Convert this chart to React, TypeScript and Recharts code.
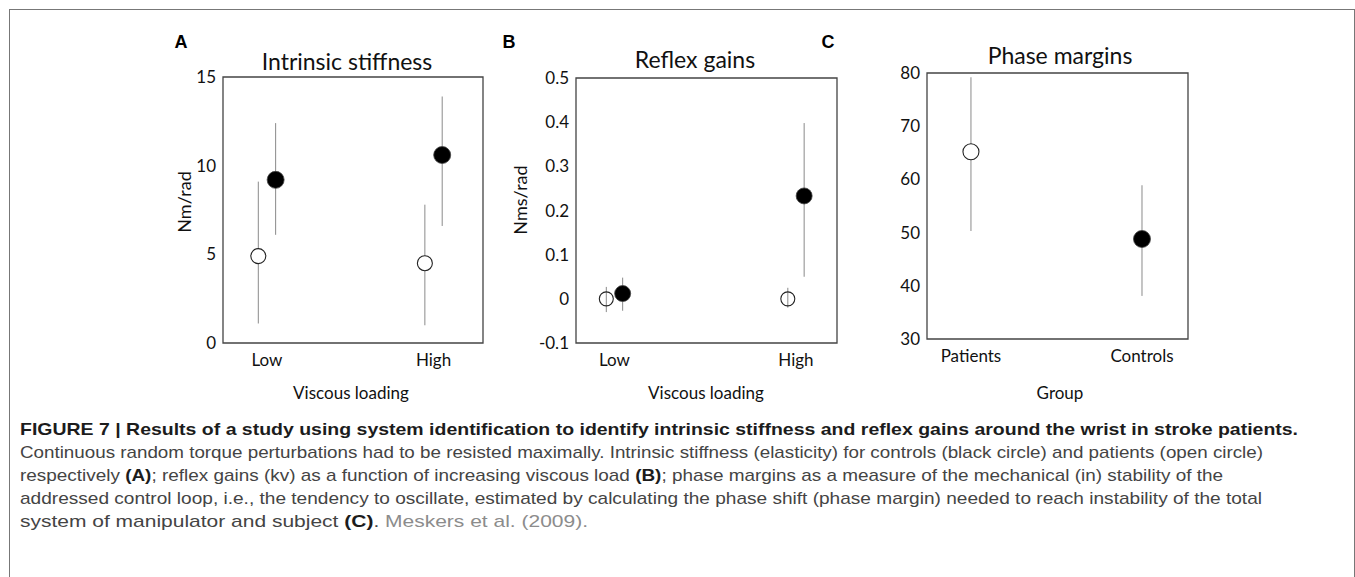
import React from 'react';
import {
  ScatterChart,
  Scatter,
  XAxis,
  YAxis,
  ErrorBar,
  ReferenceArea,
} from 'recharts';

// ---- data ----
const loadLevels = ['Low', 'High'];
const groups = ['Patients', 'Controls'];

// A: intrinsic stiffness (Nm/rad)
const stiffPatientsMean = [4.9, 4.5];
const stiffPatientsLow = [1.1, 1.0];
const stiffPatientsHigh = [9.1, 7.8];
const stiffControlsMean = [9.2, 10.6];
const stiffControlsLow = [6.1, 6.6];
const stiffControlsHigh = [12.4, 13.9];
const stiffTicks = [0, 5, 10, 15];

// B: reflex gains (Nms/rad)
const reflexPatientsMean = [0.0, 0.0];
const reflexPatientsLow = [-0.03, -0.02];
const reflexPatientsHigh = [0.027, 0.025];
const reflexControlsMean = [0.012, 0.233];
const reflexControlsLow = [-0.027, 0.05];
const reflexControlsHigh = [0.048, 0.398];
const reflexTicks = [-0.1, 0, 0.1, 0.2, 0.3, 0.4, 0.5];

// C: phase margins (deg)
const phaseMean = [65.2, 48.8];
const phaseLow = [50.3, 38.1];
const phaseHigh = [79.2, 58.9];
const phaseTicks = [30, 40, 50, 60, 70, 80];

const CHART_FONT = 'Lato, "Open Sans", sans-serif';
const CAPTION_FONT = '"Liberation Sans Narrow", "Liberation Sans", Arial, sans-serif';

type Pt = { x: number; y: number; err: [number, number] };

function buildSeries(mean: number[], lo: number[], hi: number[], dodge: number, only?: number): Pt[] {
  return mean
    .map((m, i) => ({ x: i + 1 + dodge, y: m, err: [m - lo[i]!, hi[i]! - m] as [number, number], i }))
    .filter((p) => only === undefined || p.i === only)
    .map(({ x, y, err }) => ({ x, y, err }));
}

const openDot = (r: number, fill: string) => (p: any) => (
  <circle cx={p.cx} cy={p.cy} r={r} fill={fill} stroke="#222" strokeWidth={1.1} />
);
const filledDot = (r: number) => (p: any) => (
  <circle cx={p.cx} cy={p.cy} r={r} fill="#000" stroke="#444" strokeWidth={0.8} />
);

interface PanelProps {
  box: [number, number, number, number]; // plot box in page px: x0, y0, x1, y1
  xDomain: [number, number];
  yDomain: [number, number];
  yTicks: number[];
  labels: string[];
  series: { data: Pt[]; shape: (p: any) => React.ReactElement; name: string }[];
  yFormat?: (v: number) => string;
}

function Panel({ box, xDomain, yDomain, yTicks, labels, series, yFormat }: PanelProps) {
  const [x0, y0, x1, y1] = box;
  const yw = 50;
  const xh = 40;
  const left = x0 - yw - 20;
  const top = y0 - 20;
  const width = x1 - left + 20;
  const height = y1 - top + xh + 20;
  return (
    <div style={{ position: 'absolute', left, top }}>
      <ScatterChart
        width={width}
        height={height}
        margin={{ top: 20, right: 20, bottom: 20, left: 20 }}
      >
        <XAxis
          type="number"
          dataKey="x"
          domain={xDomain}
          ticks={[1, 2]}
          tickFormatter={(v: number) => labels[v - 1] ?? ''}
          axisLine={false}
          tickLine={false}
          tickSize={0}
          tickMargin={11}
          height={xh}
          allowDataOverflow
          tick={{ fill: '#111', fontSize: 17, fontFamily: CHART_FONT }}
        />
        <YAxis
          type="number"
          dataKey="y"
          domain={yDomain}
          ticks={yTicks}
          tickFormatter={yFormat}
          axisLine={false}
          tickLine={false}
          tickSize={0}
          tickMargin={7}
          width={yw}
          allowDataOverflow
          interval={0}
          tick={{ fill: '#111', fontSize: 17, fontFamily: CHART_FONT }}
        />
        <ReferenceArea
          x1={xDomain[0]}
          x2={xDomain[1]}
          y1={yDomain[0]}
          y2={yDomain[1]}
          fill="none"
          stroke="#444"
          strokeWidth={1.3}
          ifOverflow="visible"
        />
        {series.map((s) => (
          <Scatter key={s.name} name={s.name} data={s.data} shape={s.shape} isAnimationActive={false}>
            <ErrorBar dataKey="err" direction="y" width={0} stroke="#8a8a8a" strokeWidth={1} isAnimationActive={false} />
          </Scatter>
        ))}
      </ScatterChart>
    </div>
  );
}

function Txt({ x, y, children, style }: { x: number; y: number; children: React.ReactNode; style?: React.CSSProperties }) {
  return (
    <div
      style={{
        position: 'absolute',
        left: x,
        top: y,
        transform: 'translate(-50%, -50%)',
        whiteSpace: 'nowrap',
        fontFamily: CHART_FONT,
        color: '#111',
        lineHeight: 1,
        ...style,
      }}
    >
      {children}
    </div>
  );
}

const letterStyle: React.CSSProperties = {
  fontFamily: '"Liberation Sans", Arial, sans-serif',
  fontWeight: 700,
  fontSize: 18,
  color: '#000',
};

const bold = { fontWeight: 700, fill: '#1c1c1c' };
const grey = { fill: '#8c8c8c' };

export default function App() {
  return (
    <div style={{ position: 'absolute', left: 0, top: 0, width: 1355, height: 577, overflow: 'hidden', background: '#fff' }}>
      {/* figure frame */}
      <div style={{ position: 'absolute', left: 9, top: 9, width: 1344, height: 620, border: '1.5px solid #777' }} />

      {/* A */}
      <Txt x={181} y={42} style={letterStyle}>A</Txt>
      <Txt x={347} y={61} style={{ fontSize: 23 }}>Intrinsic stiffness</Txt>
      <Txt x={184} y={202} style={{ fontSize: 18, transform: 'translate(-50%, -50%) rotate(-90deg)' }}>Nm/rad</Txt>
      <Txt x={351} y={392} style={{ fontSize: 17 }}>Viscous loading</Txt>
      <Panel
        box={[223, 77, 483, 343]}
        xDomain={[0.736, 2.297]}
        yDomain={[0, 15]}
        yTicks={stiffTicks}
        labels={loadLevels}
        series={[
          { name: 'patients', data: buildSeries(stiffPatientsMean, stiffPatientsLow, stiffPatientsHigh, -0.052), shape: openDot(7.5, '#fff') },
          { name: 'controls', data: buildSeries(stiffControlsMean, stiffControlsLow, stiffControlsHigh, 0.052), shape: filledDot(8.5) },
        ]}
      />

      {/* B */}
      <Txt x={509} y={42} style={letterStyle}>B</Txt>
      <Txt x={695} y={59} style={{ fontSize: 23 }}>Reflex gains</Txt>
      <Txt x={520} y={200} style={{ fontSize: 18, transform: 'translate(-50%, -50%) rotate(-90deg)' }}>Nms/rad</Txt>
      <Txt x={706} y={392} style={{ fontSize: 17 }}>Viscous loading</Txt>
      <Panel
        box={[576, 78, 837, 343]}
        xDomain={[0.788, 2.226]}
        yDomain={[-0.1, 0.5]}
        yTicks={reflexTicks}
        yFormat={(v: number) => (v === 0 ? '0' : String(Number(v.toFixed(1))))}
        labels={loadLevels}
        series={[
          { name: 'patients', data: buildSeries(reflexPatientsMean, reflexPatientsLow, reflexPatientsHigh, -0.045), shape: openDot(7, 'none') },
          { name: 'controls', data: buildSeries(reflexControlsMean, reflexControlsLow, reflexControlsHigh, 0.045), shape: filledDot(8) },
        ]}
      />

      {/* C */}
      <Txt x={828} y={42} style={letterStyle}>C</Txt>
      <Txt x={1060} y={55} style={{ fontSize: 23 }}>Phase margins</Txt>
      <Txt x={1060} y={392} style={{ fontSize: 17 }}>Group</Txt>
      <Panel
        box={[927, 73, 1188, 339]}
        xDomain={[0.743, 2.269]}
        yDomain={[30, 80]}
        yTicks={phaseTicks}
        labels={groups}
        series={[
          { name: 'patients', data: buildSeries(phaseMean, phaseLow, phaseHigh, 0, 0), shape: openDot(8, '#fff') },
          { name: 'controls', data: buildSeries(phaseMean, phaseLow, phaseHigh, 0, 1), shape: filledDot(8.5) },
        ]}
      />

      {/* caption */}
      <svg width={1355} height={577} style={{ position: 'absolute', left: 0, top: 0 }}>
        <g fontFamily={CAPTION_FONT} fontSize={17} fill="#444">
          <text x={20} y={435} textLength={1278} lengthAdjust="spacingAndGlyphs" {...bold}>
            FIGURE 7 |  Results of a study using system identification to identify intrinsic stiffness and reflex gains around the wrist in stroke patients.
          </text>
          <text x={20} y={458} textLength={1243} lengthAdjust="spacingAndGlyphs">
            Continuous random torque perturbations had to be resisted maximally. Intrinsic stiffness (elasticity) for controls (black circle) and patients (open circle)
          </text>
          <text x={20} y={481} textLength={1203} lengthAdjust="spacingAndGlyphs">
            {'respectively '}<tspan {...bold}>(A)</tspan>{'; reflex gains (kv) as a function of increasing viscous load '}<tspan {...bold}>(B)</tspan>{'; phase margins as a measure of the mechanical (in) stability of the'}
          </text>
          <text x={20} y={504} textLength={1242} lengthAdjust="spacingAndGlyphs">
            addressed control loop, i.e., the tendency to oscillate, estimated by calculating the phase shift (phase margin) needed to reach instability of the total
          </text>
          <text x={20} y={527} textLength={568} lengthAdjust="spacingAndGlyphs">
            {'system of manipulator and subject '}<tspan {...bold}>(C)</tspan>{'. '}<tspan {...grey}>Meskers et al. (2009).</tspan>
          </text>
        </g>
      </svg>
    </div>
  );
}
